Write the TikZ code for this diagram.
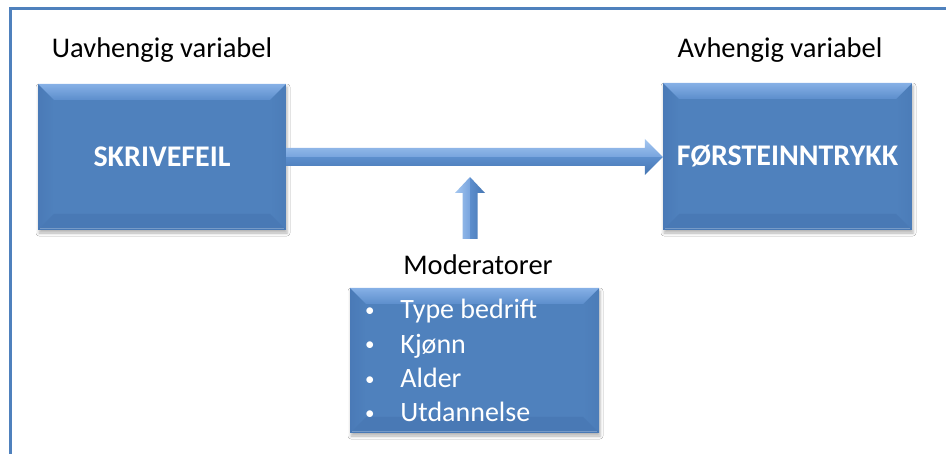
\documentclass[tikz,border=0pt]{standalone}
\usepackage{fontspec}
\setmainfont{Carlito}
\usetikzlibrary{calc,shadows.blur}
\definecolor{boxblue}{RGB}{79,129,189}
\definecolor{bevtopA}{RGB}{134,176,230}
\definecolor{bevtopB}{RGB}{92,142,204}
\definecolor{bevleft}{RGB}{74,122,183}
\definecolor{bevright}{RGB}{75,124,184}
\definecolor{bevbot}{RGB}{73,121,181}
\definecolor{framecol}{RGB}{79,129,189}
\definecolor{arrlightA}{RGB}{165,199,240}
\definecolor{arrlightB}{RGB}{120,164,222}
\definecolor{arrdarkA}{RGB}{92,142,205}
\definecolor{arrdarkB}{RGB}{70,118,178}
\tikzset{
  bevelbox/.style={fill=boxblue, draw=none, inner sep=0pt, text=white,
    font=\fontsize{30}{36}\selectfont\bfseries,
    blur shadow={shadow xshift=1pt, shadow yshift=-3pt, shadow blur radius=3pt, shadow opacity=30},
    path picture={
      \coordinate (pnw) at (path picture bounding box.north west);
      \coordinate (pne) at (path picture bounding box.north east);
      \coordinate (psw) at (path picture bounding box.south west);
      \coordinate (pse) at (path picture bounding box.south east);
      \shade[left color=bevleft, right color=boxblue] (pnw) -- ($(pnw)+(16pt,-16pt)$) -- ($(psw)+(16pt,16pt)$) -- (psw) -- cycle;
      \shade[left color=boxblue, right color=bevright] (pne) -- ($(pne)+(-16pt,-16pt)$) -- ($(pse)+(-16pt,16pt)$) -- (pse) -- cycle;
      \fill[bevbot] (psw) -- ($(psw)+(16pt,16pt)$) -- ($(pse)+(-16pt,16pt)$) -- (pse) -- cycle;
      \shade[top color=bevtopA, bottom color=bevtopB] (pnw) -- (pne) -- ($(pne)+(-16pt,-16pt)$) -- ($(pnw)+(16pt,-16pt)$) -- cycle;
      \fill[white, opacity=0.25] ($(psw)+(2pt,1pt)$) rectangle ($(pse)+(-2pt,2pt)$);
    }},
  label/.style={font=\fontsize{28.5}{34}\selectfont, text=black, inner sep=0pt},
  listtext/.style={font=\fontsize{28}{34.3}\selectfont, text=white, inner sep=0pt},
  halfup/.style={top color=arrlightA, bottom color=arrlightB, draw=none},
  halfdown/.style={top color=arrdarkA, bottom color=arrdarkB, draw=none},
  halfleft/.style={left color=arrlightA, right color=arrlightB, draw=none},
  halfright/.style={left color=arrdarkA, right color=arrdarkB, draw=none}
}
\newcommand{\smallbullet}{\raisebox{2.5pt}{\fontsize{19}{19}\selectfont •}}
\begin{document}
\begin{tikzpicture}[x=1pt,y=-1pt]
\useasboundingbox (0,0) rectangle (946,454);
\fill[white] (0,0) rectangle (946,454);
\draw[framecol, line width=3pt] (10.5,456) -- (10.5,9) -- (948,9);

\node[label] (lu) at (162,50) {Uavhengig variabel};
\node[label] (la) at (780,50) {Avhengig variabel};

\node[bevelbox, minimum width=248pt, minimum height=146pt] (a) at (162,157) {SKRIVEFEIL};
\node[bevelbox, minimum width=249pt, minimum height=147pt] (b) at (787.5,156.5) {FØRSTEINNTRYKK};

\node[label] (lm) at (478,265) {Moderatorer};
\node[bevelbox, minimum width=249pt, minimum height=145pt] (c) at (474.5,360.5) {};
\node[listtext, anchor=west] (cl) at ($(c.west)+(15,3)$) {%
  \begin{tabular}{@{}l@{\hspace{26pt}}l@{}}
  \smallbullet & Type bedrift\\
  \smallbullet & Kjønn\\
  \smallbullet & Alder\\
  \smallbullet & Utdannelse
  \end{tabular}};

% horizontal arrow
\coordinate (hs) at ($(a.east)+(0,0)$);
\coordinate (ht) at ($(b.west)+(0,0.5)$);
\shade[halfdown] (hs) -- ($(ht)+(-18,0)$) -- (ht) -- ($(ht)+(-18,18)$) -- ($(ht)+(-18,9)$) -- ($(hs)+(0,9)$) -- cycle;
\shade[halfup] ($(hs)+(0,-9)$) -- ($(ht)+(-18,-9)$) -- ($(ht)+(-18,-18)$) -- (ht) -- ($(ht)+(-18,0)$) -- (hs) -- cycle;

% vertical arrow
\coordinate (vt) at (470,177);
\coordinate (vb) at (470,239);
\shade[halfleft] ($(vb)+(-7.5,0)$) -- ($(vt)+(-7.5,16)$) -- ($(vt)+(-15,16)$) -- (vt) -- ($(vt)+(0,16)$) -- (vb) -- cycle;
\shade[halfright] (vb) -- ($(vt)+(0,16)$) -- (vt) -- ($(vt)+(15,16)$) -- ($(vt)+(7.5,16)$) -- ($(vb)+(7.5,0)$) -- cycle;
\end{tikzpicture}
\end{document}
